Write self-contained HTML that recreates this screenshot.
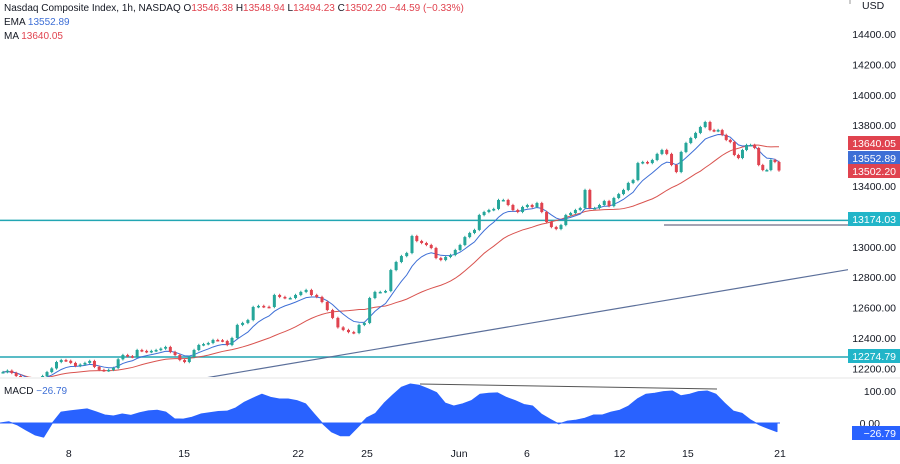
<!DOCTYPE html>
<html><head><meta charset="utf-8">
<style>
html,body{margin:0;padding:0;background:#fff;}
body{width:900px;height:459px;overflow:hidden;font-family:"Liberation Sans",sans-serif;}
svg text{font-family:"Liberation Sans",sans-serif;}
</style></head>
<body>
<svg id="c" width="900" height="459" xmlns="http://www.w3.org/2000/svg"></svg>
<script>
const closes=[12176,12185,12170,12150,12120,12100,12095,12110,12130,12150,12176,12200,12242,12255,12250,12236,12216,12225,12236,12249,12210,12190,12185,12190,12203,12260,12288,12280,12275,12321,12315,12308,12315,12321,12330,12341,12308,12288,12255,12242,12275,12321,12354,12360,12367,12387,12385,12380,12354,12400,12486,12499,12518,12604,12611,12605,12604,12683,12670,12663,12663,12683,12703,12716,12683,12670,12637,12584,12532,12470,12453,12439,12433,12486,12499,12663,12703,12703,12709,12847,12900,12939,12959,13071,13038,13025,13012,12992,12926,12913,12933,12946,12979,13012,13064,13091,13111,13209,13229,13242,13249,13308,13308,13275,13242,13229,13262,13275,13262,13288,13229,13163,13130,13117,13143,13209,13222,13242,13255,13374,13255,13255,13275,13301,13268,13321,13347,13374,13420,13439,13551,13558,13551,13571,13611,13637,13611,13538,13492,13624,13683,13716,13749,13788,13821,13768,13762,13768,13736,13703,13689,13604,13584,13637,13670,13670,13650,13538,13505,13505,13571,13558,13502];
const macd=[0,4,-6,-22,-37,-44,0,34,38,41,44,35,25,22,28,24,32,38,40,34,13,12,18,28,32,36,37,47,65,78,90,80,75,75,70,60,28,-3,-28,-40,-40,-12,16,30,62,88,112,122,118,107,95,62,53,60,70,90,93,94,80,70,58,53,28,12,-3,6,9,15,25,25,34,40,53,75,90,93,98,100,85,90,98,100,90,62,37,30,9,-6,-17,-27];
const priceTicks=[14400,14200,14000,13800,13400,13000,12800,12600,12400,12200];
const dateLabels=["8","15","22","25","Jun","6","12","15","21"];
const dateBars=[14.6,38.9,61.5,74.5,92.8,106.9,126.2,140.4,null];
const hLevels=[13174.03,12274.79];

const S=document.getElementById('c');const NS='http://www.w3.org/2000/svg';
function el(t,a,p){const e=document.createElementNS(NS,t);for(const k in a)e.setAttribute(k,a[k]);(p||S).appendChild(e);return e;}
const y=p=>34+(14400-p)*0.152;
const N=closes.length;
const tB=[0,10,49,83,145,N-1],tX=[3,47,232,412,710,779];
function x(i){for(let k=1;k<tB.length;k++){if(i<=tB[k]||k==tB.length-1){const f=(i-tB[k-1])/(tB[k]-tB[k-1]);return tX[k-1]+f*(tX[k]-tX[k-1]);}}}
const my=v=>423-v*0.32;
const mx=i=>i*(777/(macd.length-1));

const defs=el('defs',{});const cp=el('clipPath',{id:'mp'},defs);el('rect',{x:0,y:0,width:848,height:377},cp);
const g=el('g',{'clip-path':'url(#mp)'});

hLevels.forEach(lv=>{const l=el('line',{x1:0,x2:848,y1:y(lv),y2:y(lv),stroke:'#22a6b3','stroke-width':1.5},g);
});
let t=el('line',{x1:205,y1:378,x2:852,y2:269,stroke:'#5b6f9a','stroke-width':1.2},g);

t=el('line',{x1:664,y1:225,x2:848,y2:225,stroke:'#4a4a6a','stroke-width':1},g);


function sma(n){return closes.map((c,i)=>{const s=closes.slice(Math.max(0,i-n+1),i+1);return s.reduce((a,b)=>a+b,0)/s.length;});}
function ema(n){const k=2/(n+1);let e=closes[0];return closes.map(c=>e=c*k+e*(1-k));}
const maV=sma(24),emaV=ema(8);
let p=el('path',{d:maV.map((v,i)=>(i?'L':'M')+x(i)+','+y(v)).join(''),fill:'none',stroke:'#d9534f','stroke-width':1},g);

p=el('path',{d:emaV.map((v,i)=>(i?'L':'M')+x(i)+','+y(v)).join(''),fill:'none',stroke:'#3e6fd6','stroke-width':1},g);


for(let i=0;i<N;i++){const o=i?closes[i-1]:closes[0],c=closes[i];const up=c>=o;const col=up?'#26a69a':'#e0434f';
const hi=Math.max(o,c)+8,lo=Math.min(o,c)-8;
const w=el('line',{x1:x(i),x2:x(i),y1:y(hi),y2:y(lo),stroke:col,'stroke-width':1},g);

const r=el('rect',{x:x(i)-1.5,y:y(Math.max(o,c)),width:3,height:Math.max(1.5,Math.abs(y(o)-y(c))),fill:col},g);
}

el('line',{x1:0,x2:900,y1:378,y2:378,stroke:'#e6e6e6','stroke-width':1});
let md='M'+mx(0)+','+my(0);macd.forEach((v,i)=>md+='L'+mx(i)+','+my(v));md+='L'+mx(macd.length-1)+','+my(0)+'Z';
p=el('path',{d:md,fill:'#2962ff','stroke':'#2962ff','stroke-width':1,'stroke-linejoin':'round'});

el('line',{x1:0,x2:780,y1:423,y2:423,stroke:'#2962ff','stroke-width':1});
t=el('line',{x1:420,y1:384,x2:717,y2:389,stroke:'#555','stroke-width':1});


priceTicks.forEach(v=>{const tx=el('text',{x:896,y:y(v)+4,'font-size':10.5,fill:'#131722','text-anchor':'end'});tx.textContent=v.toFixed(2);
});
const usd=el('text',{x:862,y:9,'font-size':10.5,fill:'#131722'});usd.textContent='USD';

el('line',{x1:850,x2:850,y1:0,y2:4,stroke:'#999'});
function tag(val,cy,bg,name,w){const gg=el('g',{});
el('rect',{x:900-(w||52),y:cy-7,width:w||52,height:14,fill:bg},gg);const tx=el('text',{x:896,y:cy+4,'font-size':10.5,fill:'#fff','text-anchor':'end'},gg);tx.textContent=val;}
tag('13640.05',143,'#e0434f','ma-price-tag');
tag('13552.89',158,'#3e6fd6','ema-price-tag');
tag('13502.20',171,'#e0434f','last-price-tag');
tag('13174.03',219,'#22b5c8','level-tag-13174');
tag('12274.79',356,'#22b5c8','level-tag-12274');
let tx=el('text',{x:896,y:395,'font-size':10.5,fill:'#131722','text-anchor':'end'});tx.textContent='100.00';

tx=el('text',{x:880,y:427,'font-size':10.5,fill:'#131722','text-anchor':'end'});tx.textContent='0.00';

tag('−26.79',433,'#2962ff','macd-value-tag',48);

dateLabels.forEach((d,k)=>{const bx=dateBars[k]==null?780:x(dateBars[k]);const tx=el('text',{x:bx,y:457,'font-size':10.5,fill:'#131722','text-anchor':'middle'});tx.textContent=d;
});

function leg(yy,parts,name){const tx=el('text',{x:4,y:yy,'font-size':10,fill:'#131722'});
parts.forEach(([s,c])=>{const ts=el('tspan',{fill:c},tx);ts.textContent=s;});}
leg(11,[['Nasdaq Composite Index, 1h, NASDAQ  ','#131722'],['O','#131722'],['13546.38 ','#e0434f'],['H','#131722'],['13548.94 ','#e0434f'],['L','#131722'],['13494.23 ','#e0434f'],['C','#131722'],['13502.20 −44.59 (−0.33%)','#e0434f']],'ohlc-legend');
leg(25,[['EMA  ','#131722'],['13552.89','#3e6fd6']],'ema-legend');
leg(39,[['MA  ','#131722'],['13640.05','#e0434f']],'ma-legend');
leg(394,[['MACD  ','#131722'],['−26.79','#3e6fd6']],'macd-legend');
</script>
</body></html>
